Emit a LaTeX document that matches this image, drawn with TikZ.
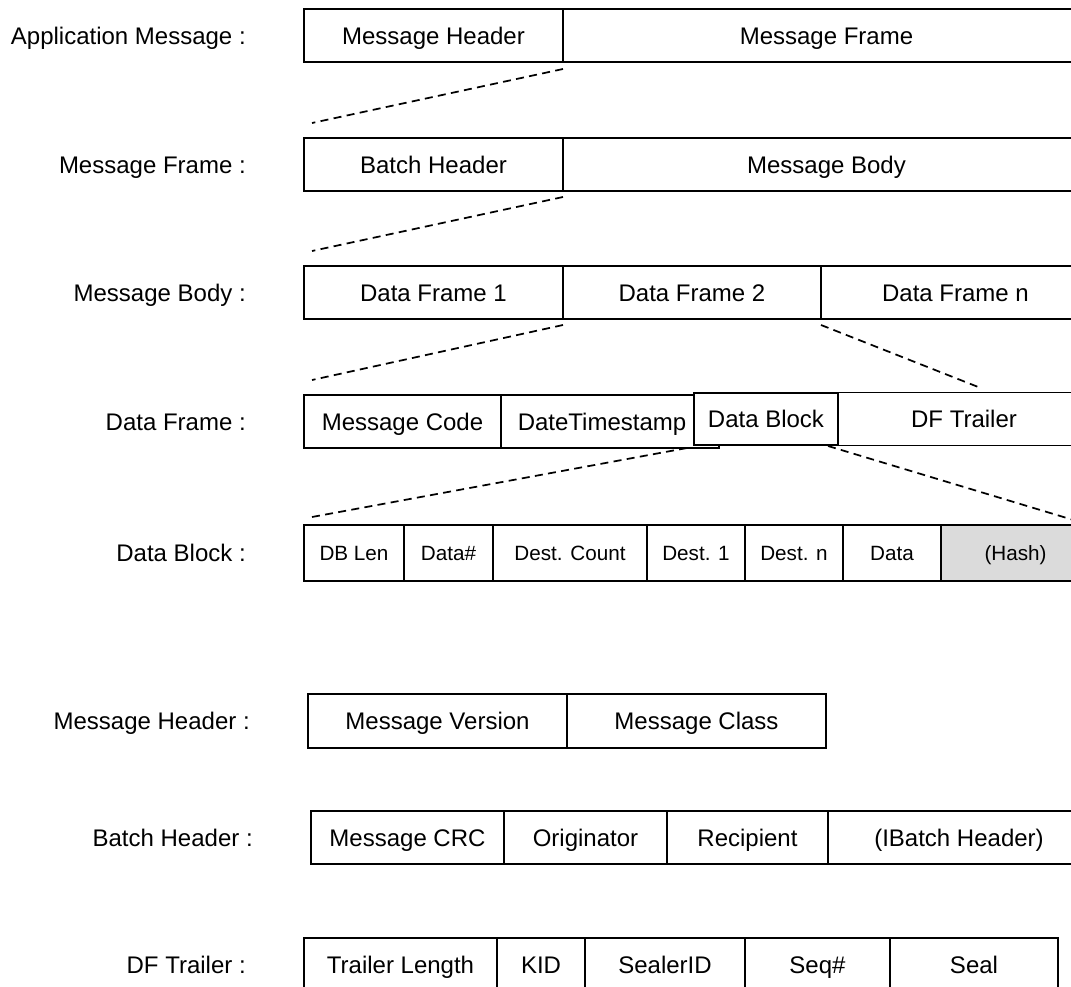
\documentclass[tikz,border=0pt]{standalone}
\usepackage{fontspec}
\setmainfont{Liberation Sans}
\usetikzlibrary{positioning,calc}

\tikzset{
  cell/.style={draw,line width=1.3pt,outer sep=0pt,inner sep=0pt,minimum height=39.75pt,
    minimum width=#1*0.75pt,font=\fontsize{18}{21}\selectfont,text height=13pt,text depth=0pt},
  small/.style={cell=#1,minimum height=42pt,font=\fontsize{15.5}{18}\selectfont,text height=11.1pt},
  lbl/.style={font=\fontsize{18}{21}\selectfont,anchor=east,inner sep=0pt,text height=13pt,text depth=0pt},
  expand/.style={line width=1.3pt,dash pattern=on 6pt off 4pt},
}

\begin{document}
\begin{tikzpicture}[x=0.75pt,y=-0.75pt]
\useasboundingbox (0,0) rectangle (1071,987);
\clip (0,0) rectangle (1071,987);

% application message
\node[cell=259,anchor=north west] (mh) at (304,9) {Message Header};
\node[cell=527,right=0pt of mh] (mf) {Message Frame};
\node[lbl,left=43.5pt of mh] (lam) {Application Message :};

% message frame
\node[cell=259,anchor=north west] (bh) at (304,138) {Batch Header};
\node[cell=527,right=0pt of bh] (mb) {Message Body};
\node[lbl,left=43.5pt of bh] (lmf) {Message Frame :};

% message body
\node[cell=259,anchor=north west] (df1) at (304,266) {Data Frame 1};
\node[cell=258,right=0pt of df1] (df2) {Data Frame 2};
\node[cell=269,right=0pt of df2] (dfn) {Data Frame n};
\node[lbl,left=43.5pt of df1] (lmb) {Message Body :};

% data frame
\node[cell=197,anchor=north west] (mc) at (304,395) {Message Code};
\node[cell=218,right=0pt of mc] (dt) {DateTimestamp\hspace*{12pt}};
\node[cell=144,minimum height=39pt,fill=white,anchor=north west] (db) at (694,393) {Data Block};
\node[cell=252,right=0pt of db] (dft) {DF Trailer};
\node[lbl,left=43.5pt of mc] (ldf) {Data Frame :};

% data block
\node[small=100,anchor=north west] (dbl) at (304,525) {DB Len};
\node[small=89,right=0pt of dbl] (dnum) {Data\#};
\node[small=154,right=0pt of dnum] (dcnt) {Dest. Count};
\node[small=98,right=0pt of dcnt] (d1) {Dest. 1};
\node[small=98,right=0pt of d1] (dn) {Dest. n};
\node[small=98,right=0pt of dn] (data) {Data};
\node[small=149,right=0pt of data,fill=black!14] (hash) {(Hash)};
\node[lbl,left=43.5pt of dbl] (ldb) {Data Block :};

% message header
\node[cell=259,minimum height=40.5pt,anchor=north west] (mv) at (308,694) {Message Version};
\node[cell=259,minimum height=40.5pt,right=0pt of mv] (mcl) {Message Class};
\node[lbl,left=43.5pt of mv] (lmh) {Message Header :};

% batch header
\node[cell=193,anchor=north west] (crc) at (311,811) {Message CRC};
\node[cell=163,right=0pt of crc] (orig) {Originator};
\node[cell=161,right=0pt of orig] (rcp) {Recipient};
\node[cell=262,right=0pt of rcp] (ibh) {(IBatch Header)};
\node[lbl,left=43.5pt of crc] (lbh) {Batch Header :};

% df trailer
\node[cell=193,anchor=north west] (tl) at (304,938) {Trailer Length};
\node[cell=88,right=0pt of tl] (kid) {KID};
\node[cell=160,right=0pt of kid] (sid) {SealerID};
\node[cell=145,right=0pt of sid] (seq) {Seq\#};
\node[cell=168,right=0pt of seq] (seal) {Seal};
\node[lbl,left=43.5pt of tl] (ldt) {DF Trailer :};

% expansion lines
\draw[expand] ($(mh.south east)+(0,7)$) -- ($(bh.north west)+(8,-15)$);
\draw[expand] ($(bh.south east)+(0,6)$) -- ($(df1.north west)+(8,-15)$);
\draw[expand] ($(df1.south east)+(0,6)$) -- ($(mc.north west)+(8,-15)$);
\draw[expand] ($(dfn.south west)+(0,6)$) -- ($(dft.north west)+(144,-4)$);
\draw[expand] ($(db.south west)+(-7,3)$) -- ($(dbl.north west)+(8,-8)$);
\draw[expand] ($(db.south east)+(-10,1)$) -- (hash.north east);
\end{tikzpicture}
\end{document}
